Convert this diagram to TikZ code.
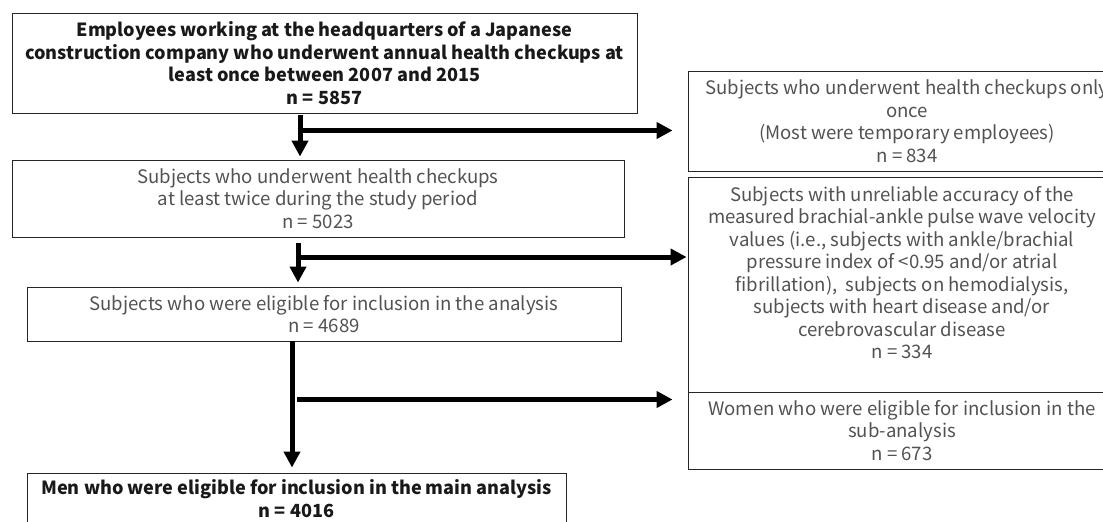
\documentclass[tikz,border=0pt]{standalone}
\usepackage{fontspec}
\setmainfont{Noto Sans CJK JP}
\usetikzlibrary{arrows.meta}
\tikzset{
  box/.style={draw=black!85, line width=0.9pt, rectangle, inner sep=0pt, align=center,
    font=\fontsize{18.6}{22.5}\selectfont, text=black!68},
  boldbox/.style={box, font=\fontsize{18.1}{22.5}\selectfont\bfseries, text=black!90},
  txt/.style={inner sep=0pt, align=center, font=\fontsize{18.6}{22.5}\selectfont, text=black!68},
  arr/.style={line width=5pt, -{Triangle[length=16pt,width=16pt]}}
}
\begin{document}
\begin{tikzpicture}[x=1pt,y=-1pt]
\useasboundingbox (0,0) rectangle (1103,522);
\clip (0,0) rectangle (1103,522);
% left column
\node[boldbox, minimum width=625pt, minimum height=100pt] (b1) at (324.5,63)
  {Employees working at the headquarters of a Japanese\\construction company who underwent annual health checkups at\\least once between 2007 and 2015\\n = 5857};
\node[box, minimum width=612pt, minimum height=77pt] (b2) at (318,198.5)
  {Subjects who underwent health checkups\\at least twice during the study period\\n = 5023};
\node[box, minimum width=594pt, minimum height=54pt] (b3) at (324,314)
  {Subjects who were eligible for inclusion in the analysis\\n = 4689};
\node[boldbox, minimum width=539pt, minimum height=51pt] (b4) at (296.5,498.5)
  {Men who were eligible for inclusion in the main analysis\\n = 4016};
% right column
\node[box, minimum width=438pt, minimum height=100pt] (r1) at (907,121)
  {Subjects who underwent health checkups only\\once\\(Most were temporary employees)\\n = 834};
\node[box, minimum width=428pt, minimum height=215pt] (r2) at (902,284.5) {};
\node[txt] (r2t) at (902,272.5)
  {Subjects with unreliable accuracy of the\\measured brachial-ankle pulse wave velocity\\values (i.e., subjects with ankle/brachial\\pressure index of <0.95 and/or atrial\\fibrillation),\ \ subjects on hemodialysis,\\subjects with heart disease and/or\\cerebrovascular disease\\n = 334};
\node[box, minimum width=428pt, minimum height=77pt] (r3) at (902,430.5)
  {Women who were eligible for inclusion in the\\sub-analysis\\n = 673};
% junctions
\coordinate (j1) at (300,130.5);
\coordinate (j2) at (298,257);
\coordinate (j3) at (292,399.5);
\coordinate (j3s) at (297,399.5);
% connectors
\draw[arr, shorten <=2pt, shorten >=3pt] (b1.south -| j1) -- (b2.north -| j1);
\draw[arr, shorten >=15pt] ([xshift=-2.5pt]j1) -- (j1 -| r1.west);
\draw[arr, shorten <=6pt, shorten >=4pt] (b2.south -| j2) -- (b3.north -| j2);
\draw[arr, shorten >=1pt] ([xshift=-2.5pt]j2) -- (j2 -| r2.west);
\draw[arr, shorten >=5pt] (b3.south -| j3) -- (b4.north -| j3);
\draw[arr, shorten >=15pt] (j3s) -- (j3s -| r3.west);
\end{tikzpicture}
\end{document}
